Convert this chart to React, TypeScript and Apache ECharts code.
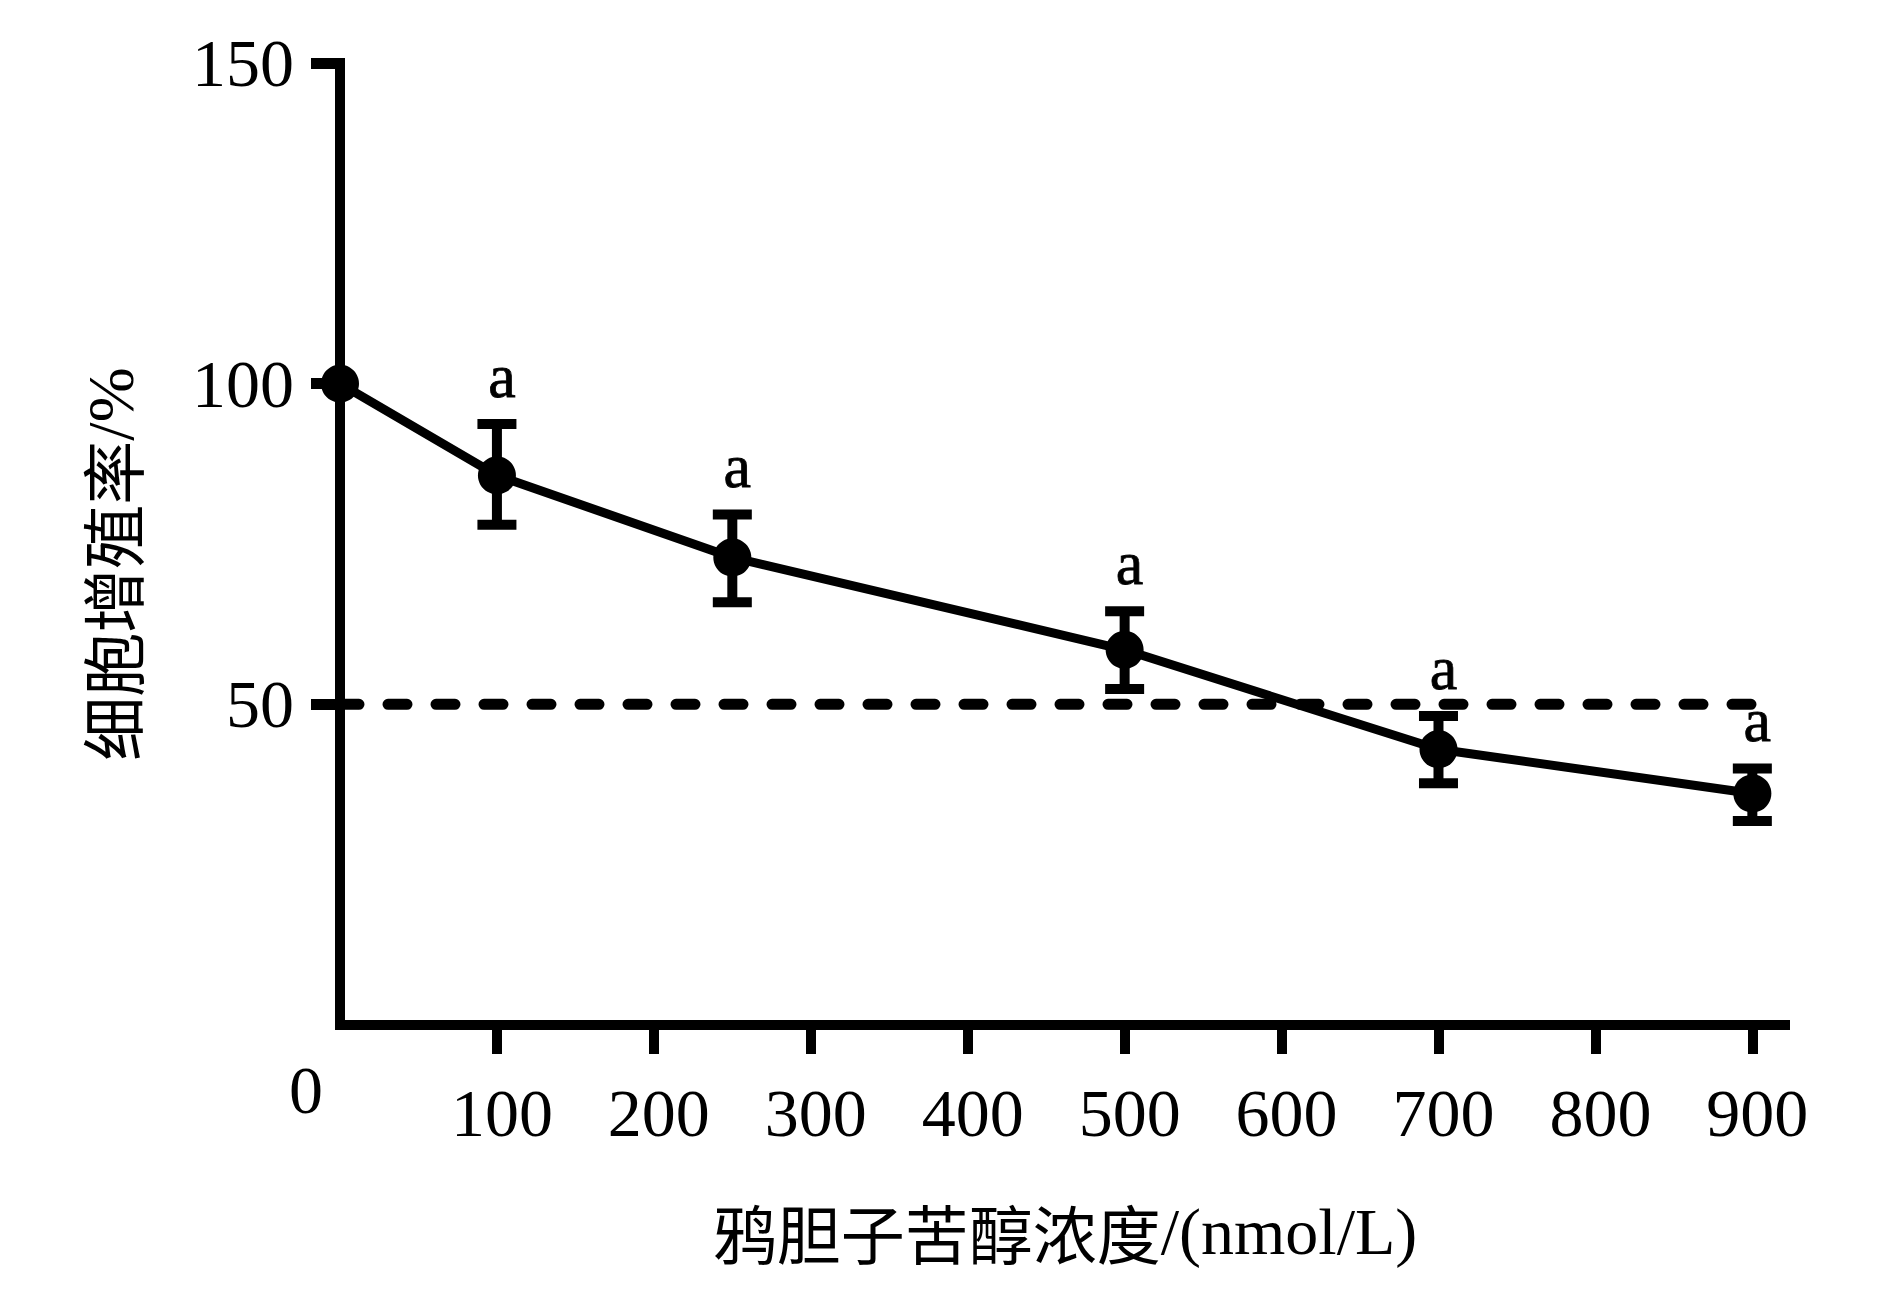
import React, { useEffect, useRef } from "react";
import * as echarts from "echarts";

// Data
const concentrations = [0, 100, 250, 500, 700, 900]; // nmol/L
const meanRates = [100, 85.7, 72.9, 58.5, 43.0, 36.1]; // %
const upperRates = [100, 93.7, 79.6, 64.5, 48.2, 40.0];
const lowerRates = [100, 78.0, 65.9, 52.4, 37.7, 31.8];
const sigLetters = ["", "a", "a", "a", "a", "a"];
const xTickValues = [100, 200, 300, 400, 500, 600, 700, 800, 900];
const xLabelValues = [0, 100, 200, 300, 400, 500, 600, 700, 800, 900];
const yTickValues = [50, 100, 150];
const threshold = 50;
const thresholdEnd = 912;

const SERIF = "'Liberation Serif', 'Times New Roman', serif";
const CJK = "'Noto Sans CJK SC', 'Noto Sans CJK JP', sans-serif";

export default function App() {
  const ref = useRef<HTMLDivElement>(null);

  useEffect(() => {
    document.body.style.margin = "0";
    if (!ref.current) return;
    const chart = echarts.init(ref.current, undefined, { renderer: "svg" });

    const errData = concentrations.map((c, i) => [c, lowerRates[i], upperRates[i], sigLetters[i]]);

    const option: any = {
      animation: false,
      backgroundColor: "#ffffff",
      grid: { left: 340, right: 100, top: 63, bottom: 289, containLabel: false },
      xAxis: {
        type: "value",
        min: 0,
        max: 924,
        interval: 100,
        splitLine: { show: false },
        axisLine: { show: true, lineStyle: { color: "#000", width: 10, cap: "butt" } },
        axisTick: {
          show: true,
          customValues: xTickValues,
          length: 29,
          lineStyle: { color: "#000", width: 10 },
        },
        axisLabel: {
          customValues: xLabelValues,
          margin: 31,
          color: "#000",
          fontFamily: SERIF,
          fontSize: 68,
          formatter: (v: number) => (v === 0 ? "{z|0}" : "{n|" + v + "}"),
          rich: {
            z: { fontFamily: SERIF, fontSize: 68, color: "#000", padding: [0, 68, 0, 0] },
            n: { fontFamily: SERIF, fontSize: 68, color: "#000", padding: [23, 0, 0, 10] },
          },
        },
        name: "{c|鸦胆子苦醇浓度}{l|/(nmol/L)}",
        nameLocation: "middle",
        nameGap: 171,
        nameTextStyle: {
          rich: {
            c: { fontFamily: CJK, fontSize: 64, color: "#000", lineHeight: 70 },
            l: { fontFamily: SERIF, fontSize: 66, color: "#000", lineHeight: 70 },
          },
        },
      },
      yAxis: {
        type: "value",
        min: 0,
        max: 150,
        interval: 50,
        splitLine: { show: false },
        axisLine: { show: true, lineStyle: { color: "#000", width: 10, cap: "square" } },
        axisTick: {
          show: true,
          customValues: yTickValues,
          length: 29,
          lineStyle: { color: "#000", width: 11 },
        },
        axisLabel: {
          customValues: yTickValues,
          margin: 46,
          color: "#000",
          fontFamily: SERIF,
          fontSize: 68,
        },
        name: "{c|细胞增殖率}{l|/%}",
        nameLocation: "middle",
        nameRotate: 90,
        nameGap: 195,
        nameTextStyle: {
          padding: [0, 40, 0, 0],
          rich: {
            c: { fontFamily: CJK, fontSize: 64, color: "#000", lineHeight: 70 },
            l: { fontFamily: SERIF, fontSize: 66, color: "#000", lineHeight: 70 },
          },
        },
      },
      series: [
        {
          type: "line",
          name: "threshold",
          data: [
            [0, threshold],
            [thresholdEnd, threshold],
          ],
          symbol: "none",
          silent: true,
          clip: false,
          lineStyle: { color: "#000", width: 11, type: [19, 29], cap: "round" },
          z: 2,
        },
        {
          type: "custom",
          name: "error",
          data: errData,
          encode: { x: 0, y: [1, 2] },
          clip: false,
          z: 3,
          renderItem: (params: any, api: any) => {
            const x = api.value(0);
            const lo = api.value(1);
            const hi = api.value(2);
            const letter = sigLetters[params.dataIndex];
            const pLo = api.coord([x, lo]);
            const pHi = api.coord([x, hi]);
            const half = 19.5;
            const st = { stroke: "#000", lineWidth: 10 };
            const children: any[] = [];
            if (hi !== lo) {
              children.push(
                { type: "line", shape: { x1: pLo[0], y1: pLo[1], x2: pHi[0], y2: pHi[1] }, style: st },
                { type: "line", shape: { x1: pHi[0] - half, y1: pHi[1], x2: pHi[0] + half, y2: pHi[1] }, style: st },
                { type: "line", shape: { x1: pLo[0] - half, y1: pLo[1], x2: pLo[0] + half, y2: pLo[1] }, style: st }
              );
            }
            if (letter) {
              children.push({
                type: "text",
                style: {
                  text: letter,
                  x: pHi[0] + 5,
                  y: pHi[1] - 48,
                  align: "center",
                  verticalAlign: "middle",
                  fontFamily: SERIF,
                  fontSize: 62,
                  fill: "#000",
                  stroke: "#000",
                  lineWidth: 0.8,
                },
              });
            }
            return { type: "group", children };
          },
        },
        {
          type: "line",
          name: "rate",
          data: concentrations.map((c, i) => [c, meanRates[i]]),
          symbol: "circle",
          symbolSize: 38,
          clip: false,
          lineStyle: { color: "#000", width: 9 },
          itemStyle: { color: "#000" },
          z: 4,
        },
      ],
    };

    chart.setOption(option);
    return () => chart.dispose();
  }, []);

  return <div ref={ref} style={{ width: 1890, height: 1314 }} />;
}
